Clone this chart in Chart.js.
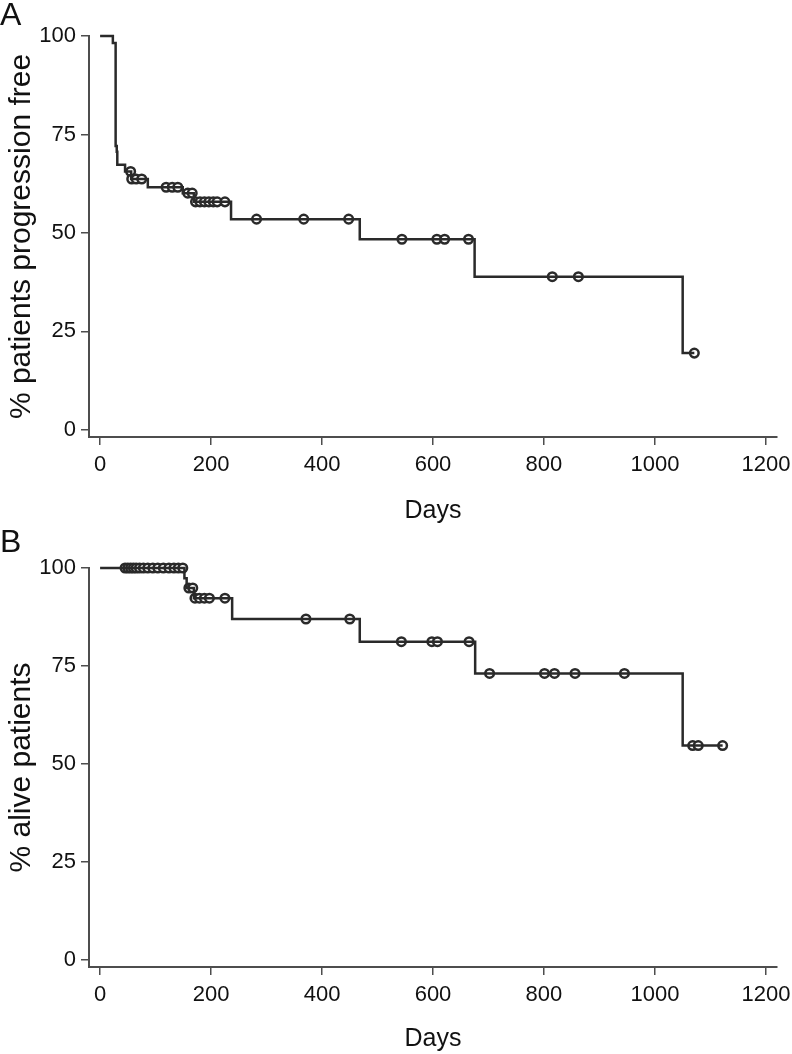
<!DOCTYPE html>
<html>
<head>
<meta charset="utf-8">
<script src="https://cdn.jsdelivr.net/npm/chart.js@4.4.1/dist/chart.umd.min.js"></script>
<style>
    body { margin: 0; background: #fff; width: 792px; height: 1054px; overflow: hidden; font-family: "Liberation Sans", Arial, sans-serif; }
    .panel { position: relative; width: 792px; height: 527px; }
    .panel-label { position: absolute; left: 0; top: -4px; font-size: 32px; color: #111; }
    canvas { display: block; }
</style>
</head>
<body>
<div class="panel"><canvas id="chart-a" width="792" height="527"></canvas><div class="panel-label">A</div></div>
<div class="panel"><canvas id="chart-b" width="792" height="527"></canvas><div class="panel-label">B</div></div>
<script>
const dayTicks = [0, 200, 400, 600, 800, 1000, 1200];
const pctTicks = [0, 25, 50, 75, 100];

// A: progression free
const pfsStepDays = [0, 23, 28, 30, 31, 45, 56, 86, 149, 169, 236, 468, 675, 1050, 1071];
const pfsStepPct  = [100, 98.2, 72.1, 70.6, 67.3, 65.6, 63.7, 61.6, 60.1, 57.9, 53.5, 48.4, 38.9, 19.5, 19.5];
const pfsCensorDays = [55, 57, 65, 75, 119, 130, 140, 158, 166, 172, 180, 188, 196, 204, 211, 225, 282, 367, 448, 544, 607, 621, 664, 815, 862, 1071];
const pfsCensorPct  = [65.6, 63.7, 63.7, 63.7, 61.6, 61.6, 61.6, 60.1, 60.1, 57.9, 57.9, 57.9, 57.9, 57.9, 57.9, 57.9, 53.5, 53.5, 53.5, 48.4, 48.4, 48.4, 48.4, 38.9, 38.9, 19.5];

// B: alive
const osStepDays = [0, 152, 156, 169, 238, 468, 676, 1050, 1122];
const osStepPct  = [100, 97.4, 94.9, 92.3, 87.0, 81.2, 73.1, 54.7, 54.7];
const osCensorDays = [45, 50, 55, 60, 65, 71, 78, 86, 95, 104, 114, 124, 133, 141, 149, 160, 167, 171, 179, 188, 197, 225, 371, 450, 543, 598, 608, 665, 702, 801, 819, 856, 945, 1068, 1078, 1122];
const osCensorPct  = [100, 100, 100, 100, 100, 100, 100, 100, 100, 100, 100, 100, 100, 100, 100, 94.9, 94.9, 92.3, 92.3, 92.3, 92.3, 92.3, 87.0, 87.0, 81.2, 81.2, 81.2, 81.2, 73.1, 73.1, 73.1, 73.1, 73.1, 54.7, 54.7, 54.7];

const lineColor = '#2a2a2a';
const axisColor = '#4d4d4d';
const textColor = '#111';

function toPoints(xs, ys) {
    return xs.map((x, i) => ({ x: x, y: ys[i] }));
}

function renderKaplanMeier(canvasId, opts) {
    const ctx = document.getElementById(canvasId);
    return new Chart(ctx, {
        type: 'line',
        data: {
            datasets: [
                {
                    data: toPoints(opts.stepDays, opts.stepPct),
                    stepped: 'before',
                    borderColor: lineColor,
                    borderWidth: 2.5,
                    pointRadius: 0,
                    fill: false,
                    clip: 8
                },
                {
                    data: toPoints(opts.censorDays, opts.censorPct),
                    showLine: false,
                    pointStyle: 'circle',
                    pointRadius: 4.3,
                    pointBorderWidth: 2.5,
                    pointBackgroundColor: '#fff',
                    pointBorderColor: lineColor,
                    clip: 8
                }
            ]
        },
        options: {
            responsive: false,
            animation: false,
            devicePixelRatio: 1,
            layout: { padding: { top: opts.top, right: 15, left: 0, bottom: 0 } },
            plugins: { legend: { display: false }, tooltip: { enabled: false } },
            scales: {
                x: {
                    type: 'linear',
                    min: -20,
                    max: 1220,
                    afterBuildTicks: (s) => { s.ticks = dayTicks.map(v => ({ value: v })); },
                    afterFit: (s) => {
                        s.height = opts.xHeight;
                        s.paddingLeft = 0;
                        s.paddingRight = 0;
                    },
                    grid: { drawOnChartArea: false, drawTicks: true, tickLength: 8, color: axisColor, lineWidth: 1.5 },
                    border: { display: true, color: axisColor, width: 2 },
                    ticks: { color: textColor, font: { family: 'Liberation Sans', size: 22 }, padding: 7, maxRotation: 0, callback: (v) => String(v) },
                    title: { display: true, text: 'Days', color: textColor, font: { family: 'Liberation Sans', size: 25 }, padding: { top: 0, bottom: opts.xTitlePad } }
                },
                y: {
                    min: -1.8,
                    max: 100,
                    afterBuildTicks: (s) => { s.ticks = pctTicks.map(v => ({ value: v })); },
                    afterFit: (s) => {
                        s.width = 89;
                        s.paddingTop = 0;
                        s.paddingBottom = 0;
                    },
                    grid: { drawOnChartArea: false, drawTicks: true, tickLength: 8, color: axisColor, lineWidth: 1.5 },
                    border: { display: true, color: axisColor, width: 2 },
                    ticks: { color: textColor, font: { family: 'Liberation Sans', size: 22 }, padding: 5, callback: (v) => String(v) },
                    title: { display: true, text: opts.yTitle, color: textColor, font: { family: 'Liberation Sans', size: 30 }, padding: { top: 4, bottom: 0 } }
                }
            }
        }
    });
}

renderKaplanMeier('chart-a', {
    stepDays: pfsStepDays, stepPct: pfsStepPct,
    censorDays: pfsCensorDays, censorPct: pfsCensorPct,
    yTitle: '% patients progression free',
    top: 36, xHeight: 90, xTitlePad: 1
});

renderKaplanMeier('chart-b', {
    stepDays: osStepDays, stepPct: osStepPct,
    censorDays: osCensorDays, censorPct: osCensorPct,
    yTitle: '% alive patients',
    top: 41, xHeight: 87, xTitlePad: 0
});
</script>
</body>
</html>
